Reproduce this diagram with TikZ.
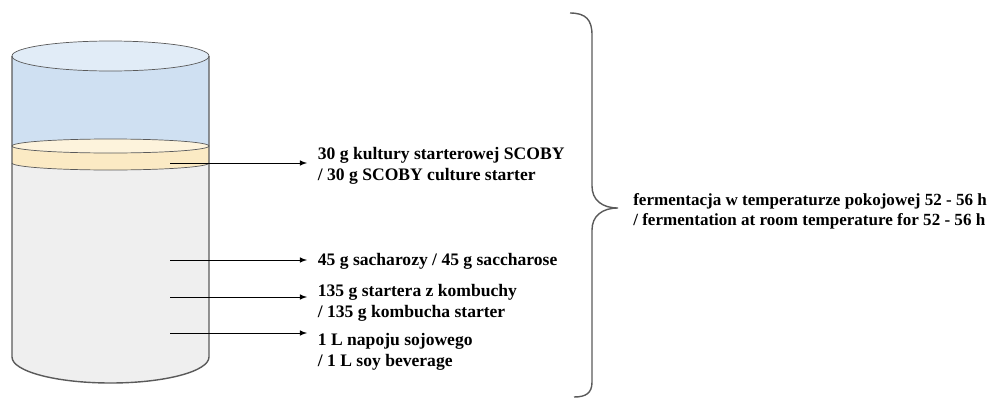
\documentclass[tikz,border=0pt]{standalone}
\usepackage{fontspec}
\setmainfont{Liberation Serif}
\usetikzlibrary{positioning}
\definecolor{edge}{HTML}{5A5A5A}
\definecolor{water}{HTML}{CFE0F2}
\definecolor{watertop}{HTML}{E1ECF7}
\definecolor{scoby}{HTML}{FBEAC4}
\definecolor{scobytop}{HTML}{FDF3DC}
\definecolor{soy}{HTML}{EFEFEF}
\tikzset{lbl/.style={anchor=west, align=left, inner xsep=6pt, font=\bfseries\fontsize{10}{12}\selectfont}}
\begin{document}
\begin{tikzpicture}[x=0.02cm, y=0.02cm]
\useasboundingbox (0,0) rectangle (993,-399);
\path[fill=soy] (12,-163) -- (12,-357) arc[start angle=180, end angle=360, x radius=98.5, y radius=26] -- (209,-163) -- cycle;
\path[fill=scoby] (12,-146) -- (12,-163) arc[start angle=180, end angle=360, x radius=98.5, y radius=7] -- (209,-146) -- cycle;
\path[fill=water] (12,-56) -- (12,-146) arc[start angle=180, end angle=360, x radius=98.5, y radius=7] -- (209,-56) -- cycle;
\path[draw=edge, fill=scobytop] (110.5,-146) ellipse [x radius=98.5, y radius=7];
\path[draw=edge] (12,-163) arc[start angle=180, end angle=360, x radius=98.5, y radius=7];
\path[draw=edge, fill=watertop] (110.5,-56) ellipse [x radius=98.5, y radius=15];
\path[draw=edge, thick] (12,-56) -- (12,-357) arc[start angle=180, end angle=360, x radius=98.5, y radius=26] -- (209,-56);
\coordinate (s1) at (170,-163);
\coordinate (s2) at (170,-260);
\coordinate (s3) at (170,-297);
\coordinate (s4) at (170,-333);
\node[lbl] (t1) at (307,-166) {30 g kultury starterowej SCOBY\\/ 30 g SCOBY culture starter};
\node[lbl] (t2) at (307,-261) {45 g sacharozy / 45 g saccharose};
\node[lbl] (t3) at (307,-303) {135 g startera z kombuchy\\/ 135 g kombucha starter};
\node[lbl] (t4) at (307,-352) {1 L napoju sojowego\\/ 1 L soy beverage};
\path[draw,-latex] (s1) -- (s1 -| t1.west);
\path[draw,-latex] (s2) -- (s2 -| t2.west);
\path[draw,-latex] (s3) -- (s3 -| t3.west);
\path[draw,-latex] (s4) -- (s4 -| t4.west);
\coordinate (tip) at (618,-208);
\path[draw=edge, thick] (570,-13) .. controls (586,-13) and (592,-20) .. (592,-35) -- (592,-186) .. controls (592,-200) and (602,-208) .. (tip) .. controls (602,-208) and (592,-216) .. (592,-230) -- (592,-382) .. controls (592,-393) and (586,-397) .. (574,-397);
\node[lbl, font=\bfseries\fontsize{9.7}{11.3}\selectfont, right=2.5pt of tip, yshift=-2pt] (t5) {fermentacja w temperaturze pokojowej 52 - 56 h\\/ fermentation at room temperature for 52 - 56 h};
\end{tikzpicture}
\end{document}
